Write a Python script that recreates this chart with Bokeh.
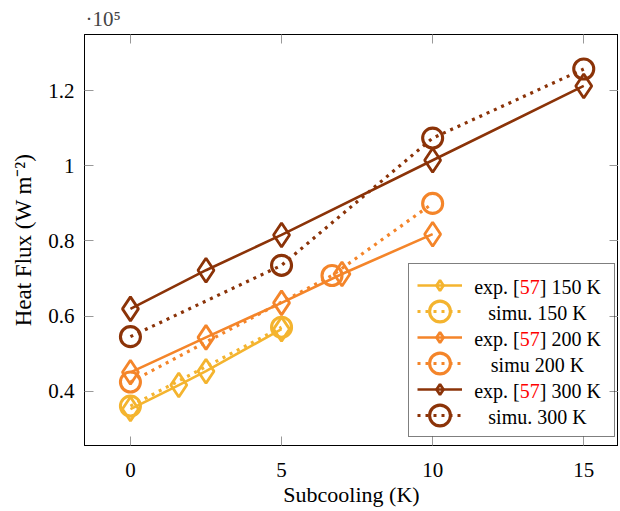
from bokeh.plotting import figure
from bokeh.models import (Range1d, FixedTicker, CustomJSTickFormatter, LinearAxis,
                          Legend, LegendItem, Label)
from bokeh.embed import file_html
from bokeh.resources import INLINE

# ---- data (heat flux in W m^-2) ----
exp150_x = [0, 1.6, 2.5, 5]
exp150_y = [35200, 41600, 45300, 56500]
simu150_x = [0, 5]
simu150_y = [36000, 57000]
exp200_x = [0, 2.5, 5, 7, 10]
exp200_y = [45000, 54300, 63500, 71200, 81800]
simu200_x = [0, 6.67, 10]
simu200_y = [42400, 70800, 90000]
exp300_x = [0, 2.5, 5, 10, 15]
exp300_y = [61900, 72200, 81600, 101500, 121300]
simu300_x = [0, 5, 10, 15]
simu300_y = [54500, 73500, 107400, 125800]

x_ticks = [0, 5, 10, 15]
y_ticks = [40000, 60000, 80000, 100000, 120000]
# legend texts split into (text, is_citation) parts
legend_parts = [
    [("exp. [", False), ("57", True), ("] 150 K", False)],
    [("simu. 150 K", False)],
    [("exp. [", False), ("57", True), ("] 200 K", False)],
    [("simu 200 K", False)],
    [("exp. [", False), ("57", True), ("] 300 K", False)],
    [("simu. 300 K", False)],
]

YEL = "#F4B42F"
ORA = "#F4852A"
BRO = "#8B3308"
FONT = "Liberation Serif"

p = figure(width=618, height=509, output_backend="svg", toolbar_location=None,
           x_range=Range1d(-1.52, 16.15), y_range=Range1d(25500, 135000),
           min_border_left=84, min_border_right=0, min_border_top=34,
           min_border_bottom=60)
p.xgrid.visible = False
p.ygrid.visible = False
p.outline_line_color = "black"
p.outline_line_width = 1
p.background_fill_color = "white"
p.border_fill_color = "white"

p.title.text = "·10⁵"
p.title.text_font = FONT
p.title.text_font_size = "21px"
p.title.text_font_style = "normal"
p.title.align = "left"
p.title.offset = 1
p.title.standoff = 8

fmt = CustomJSTickFormatter(code="return parseFloat((tick/1e5).toFixed(2)).toString();")
blank = CustomJSTickFormatter(code="return '';")

def style_axis(ax, labels=True):
    ax.axis_line_color = "black"
    ax.major_tick_in = 9
    ax.major_tick_out = 0
    ax.minor_tick_in = 0
    ax.minor_tick_out = 0
    ax.major_tick_line_color = "#999999"
    ax.major_tick_line_width = 1
    ax.major_label_text_font = FONT
    ax.major_label_text_font_size = "21px"
    ax.major_label_text_color = "black"
    ax.axis_label_text_font = FONT
    ax.axis_label_text_font_size = "22px"
    ax.axis_label_text_font_style = "normal"
    ax.axis_label_text_color = "black"
    if not labels:
        ax.formatter = blank
        ax.major_label_text_color = None
        ax.major_label_standoff = 0

p.xaxis.ticker = FixedTicker(ticks=x_ticks)
p.yaxis.ticker = FixedTicker(ticks=y_ticks)
p.yaxis.formatter = fmt
style_axis(p.xaxis[0])
style_axis(p.yaxis[0])
p.xaxis.axis_label = "Subcooling (K)"
p.yaxis.axis_label = "Heat Flux (W m⁻²)"
p.yaxis.axis_label_text_font_size = "23px"
p.xaxis.major_label_standoff = 17
p.xaxis.axis_label_standoff = 2
p.yaxis.major_label_standoff = 10
p.yaxis.axis_label_standoff = 9

top = LinearAxis(ticker=FixedTicker(ticks=x_ticks))
right = LinearAxis(ticker=FixedTicker(ticks=y_ticks))
style_axis(top, labels=False)
style_axis(right, labels=False)
p.add_layout(top, "above")
p.add_layout(right, "right")

LW = 2.6
MLW = 2.8
DOT = "3 5"

items = []
def add(xs, ys, color, dotted, marker):
    ln = p.line(xs, ys, line_color=color, line_width=LW + (0.6 if dotted else 0),
                line_dash=DOT if dotted else "solid")
    if marker == "diamond":
        sc = p.scatter(xs, ys, marker="diamond", size=24, line_color=color,
                       line_width=MLW, fill_alpha=0)
    else:
        sc = p.ellipse(x=xs, y=ys, width=20, height=20, width_units="screen",
                       height_units="screen", line_color=color,
                       line_width=MLW + 0.3, fill_alpha=0)
    items.append(LegendItem(label=" ", renderers=[ln, sc]))

add(exp150_x, exp150_y, YEL, False, "diamond")
add(simu150_x, simu150_y, YEL, True, "circle")
add(exp200_x, exp200_y, ORA, False, "diamond")
add(simu200_x, simu200_y, ORA, True, "circle")
add(exp300_x, exp300_y, BRO, False, "diamond")
add(simu300_x, simu300_y, BRO, True, "circle")

LEG_X, LEG_Y = 324, 8
PAD, GW, GH, STAND, LW_LAB = 8, 45, 26, 6, 138
LFS = 20
leg = Legend(items=items, location=(LEG_X, LEG_Y))
leg.label_text_font = FONT
leg.label_text_font_size = f"{LFS}px"
leg.glyph_width = GW
leg.glyph_height = GH
leg.label_height = GH
leg.label_width = LW_LAB
leg.spacing = 0
leg.padding = PAD
leg.label_standoff = STAND
leg.border_line_color = "black"
leg.border_line_width = 1
leg.background_fill_alpha = 0
p.add_layout(leg, "center")

# legend texts, centred in the label column, with the red citation number
ADV = {"e": 909, "x": 1024, "p": 1024, ".": 512, " ": 512, "[": 682, "]": 682,
       "s": 797, "i": 569, "m": 1593, "u": 1024, "K": 1479}
def text_w(s):
    return sum(ADV.get(c, 1024) for c in s) / 2048 * LFS

n = len(legend_parts)
leg_h = 2 * PAD + n * GH
col_cx = LEG_X + PAD + GW + STAND + LW_LAB / 2 + 1
for i, parts in enumerate(legend_parts):
    cy = LEG_Y + leg_h - PAD - i * GH - GH / 2
    total = sum(text_w(t) for t, _ in parts)
    sx = col_cx - total / 2
    for t, cite in parts:
        p.add_layout(Label(x=sx, y=cy, x_units="screen", y_units="screen", text=t,
                           text_font=FONT, text_font_size=f"{LFS}px",
                           text_baseline="middle", text_align="left",
                           text_color="#FF0000" if cite else "black"))
        sx += text_w(t)

open("out.html", "w").write(file_html(p, INLINE))
